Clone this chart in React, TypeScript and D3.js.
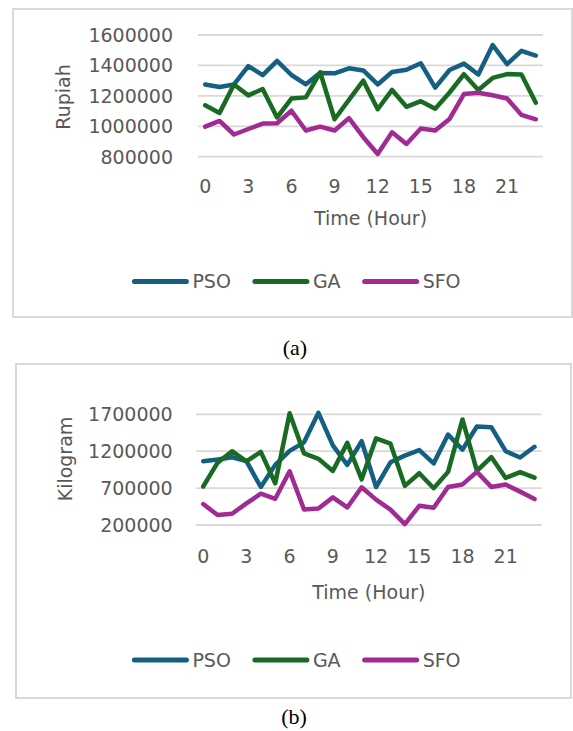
import React, { useEffect, useRef } from "react";
import * as d3 from "d3";

// hours on the x axis, labelled every 3rd
const hours = [0, 1, 2, 3, 4, 5, 6, 7, 8, 9, 10, 11, 12, 13, 14, 15, 16, 17, 18, 19, 20, 21, 22, 23];
const hourTicks = [0, 3, 6, 9, 12, 15, 18, 21];

const seriesNames = ["PSO", "GA", "SFO"];
const seriesColors = ["#156082", "#196B24", "#A02B93"];

// (a) cost in Rupiah
const costPSO = [1275000, 1258000, 1275000, 1396000, 1336000, 1430000, 1337000, 1276000, 1351000, 1348000, 1381000, 1367000, 1275000, 1357000, 1372000, 1414000, 1254000, 1370000, 1412000, 1340000, 1534000, 1408000, 1496000, 1465000];
const costGA = [1138000, 1088000, 1275000, 1203000, 1245000, 1058000, 1182000, 1190000, 1355000, 1046000, 1173000, 1300000, 1112000, 1239000, 1128000, 1165000, 1115000, 1222000, 1342000, 1239000, 1318000, 1343000, 1340000, 1155000];
const costSFO = [998000, 1035000, 946000, 982000, 1018000, 1020000, 1102000, 972000, 998000, 972000, 1053000, 928000, 818000, 960000, 884000, 985000, 972000, 1048000, 1212000, 1220000, 1204000, 1183000, 1075000, 1046000];
const costTicks = [800000, 1000000, 1200000, 1400000, 1600000];

// (b) mass in Kilogram
const massPSO = [1065000, 1087000, 1118000, 1065000, 715000, 1015000, 1205000, 1320000, 1720000, 1280000, 1015000, 1335000, 715000, 1050000, 1140000, 1215000, 1035000, 1425000, 1222000, 1535000, 1525000, 1200000, 1115000, 1260000];
const massGA = [722000, 1045000, 1200000, 1062000, 1191000, 765000, 1715000, 1170000, 1097000, 933000, 1313000, 819000, 1375000, 1302000, 730000, 902000, 698000, 920000, 1630000, 932000, 1121000, 838000, 917000, 842000];
const massSFO = [484000, 335000, 352000, 493000, 624000, 555000, 928000, 410000, 423000, 574000, 438000, 711000, 544000, 408000, 211000, 460000, 433000, 716000, 750000, 920000, 716000, 748000, 652000, 551000];
const massTicks = [200000, 700000, 1200000, 1700000];

const FONT = "'DejaVu Sans', sans-serif";
const GREY = "#595959";
const GRID = "#d9d9d9";

function drawChart(root, o) {
  const g = root.append("g");

  // outer frame
  g.append("rect")
    .attr("x", o.box[0])
    .attr("y", o.box[1])
    .attr("width", o.box[2] - o.box[0])
    .attr("height", o.box[3] - o.box[1])
    .attr("fill", "white")
    .attr("stroke", GRID)
    .attr("stroke-width", 2);

  const x = d3.scaleBand().domain(o.hours).range([o.left, o.right]);
  const cx = (h) => x(h) + x.bandwidth() / 2;
  const y = d3
    .scaleLinear()
    .domain([d3.min(o.ticks), d3.max(o.ticks)])
    .range([o.bottom, o.top]);

  // gridlines + y labels
  g.selectAll(".grid")
    .data(o.ticks)
    .enter()
    .append("line")
    .attr("x1", o.left)
    .attr("x2", o.right)
    .attr("y1", (d) => y(d))
    .attr("y2", (d) => y(d))
    .attr("stroke", GRID)
    .attr("stroke-width", 1.8);

  g.selectAll(".ylab")
    .data(o.ticks)
    .enter()
    .append("text")
    .attr("x", o.yLabelRight)
    .attr("y", (d) => y(d))
    .attr("dy", "0.36em")
    .attr("text-anchor", "end")
    .text((d) => d3.format("d")(d));

  g.selectAll(".xlab")
    .data(o.xTicks)
    .enter()
    .append("text")
    .attr("x", (d) => cx(d))
    .attr("y", o.xLabelY)
    .attr("dy", "0.36em")
    .attr("text-anchor", "middle")
    .text((d) => d);

  g.append("text")
    .attr("x", (o.left + o.right) / 2)
    .attr("y", o.xTitleY)
    .attr("dy", "0.36em")
    .attr("text-anchor", "middle")
    .text("Time (Hour)");

  g.append("text")
    .attr("transform", `translate(${o.yTitleX}, ${o.yTitleY}) rotate(-90)`)
    .attr("dy", "0.36em")
    .attr("text-anchor", "middle")
    .text(o.yTitle);

  g.selectAll("text").attr("fill", GREY).attr("font-family", FONT).attr("font-size", 19);

  const line = d3
    .line()
    .x((d, i) => cx(o.hours[i]))
    .y((d) => y(d));

  o.series.forEach((s, i) => {
    g.append("path")
      .attr("d", line(s))
      .attr("fill", "none")
      .attr("stroke", seriesColors[i])
      .attr("stroke-width", 4.5)
      .attr("stroke-linejoin", "round")
      .attr("stroke-linecap", "round");
  });

  // legend, centred on legendX
  const leg = g.append("g");
  let pos = 0;
  seriesNames.forEach((name, i) => {
    leg.append("line")
      .attr("x1", pos)
      .attr("x2", pos + 52)
      .attr("y1", o.legendY)
      .attr("y2", o.legendY)
      .attr("stroke", seriesColors[i])
      .attr("stroke-width", 5)
      .attr("stroke-linecap", "round");
    const t = leg.append("text")
      .attr("x", pos + 58)
      .attr("y", o.legendY)
      .attr("dy", "0.36em")
      .attr("fill", GREY)
      .attr("font-family", FONT)
      .attr("font-size", 19)
      .text(name);
    pos += 58 + t.node().getComputedTextLength() + 24;
  });
  const total = pos - 24;
  leg.attr("transform", `translate(${o.legendX - total / 2}, 0)`);

  root.append("text")
    .attr("x", o.captionX)
    .attr("y", o.captionY)
    .attr("text-anchor", "middle")
    .attr("font-family", "'Liberation Serif', serif")
    .attr("font-size", 22)
    .attr("fill", "#000")
    .text(o.caption);
}

export default function App() {
  const svgRef = useRef(null);

  useEffect(() => {
    const svg = d3.select(svgRef.current);
    svg.selectAll("*").remove();

    drawChart(svg, {
      box: [13, 9, 572, 317],
      hours,
      xTicks: hourTicks,
      ticks: costTicks,
      series: [costPSO, costGA, costSFO],
      left: 198,
      right: 543,
      top: 35,
      bottom: 156.7,
      yLabelRight: 173,
      xLabelY: 186,
      xTitleY: 218,
      yTitle: "Rupiah",
      yTitleX: 63,
      yTitleY: 97,
      legendX: 297.5,
      legendY: 281.5,
      caption: "(a)",
      captionX: 295,
      captionY: 355,
    });

    drawChart(svg, {
      box: [16, 364, 571, 698],
      hours,
      xTicks: hourTicks,
      ticks: massTicks,
      series: [massPSO, massGA, massSFO],
      left: 196,
      right: 541.7,
      top: 414.3,
      bottom: 525,
      yLabelRight: 172.7,
      xLabelY: 556,
      xTitleY: 592,
      yTitle: "Kilogram",
      yTitleX: 65,
      yTitleY: 459,
      legendX: 297.5,
      legendY: 660,
      caption: "(b)",
      captionX: 294,
      captionY: 724,
    });
  }, []);

  return (
    <svg
      ref={svgRef}
      width={573}
      height={731}
      style={{ position: "absolute", left: 0, top: 0, background: "white" }}
    ></svg>
  );
}
